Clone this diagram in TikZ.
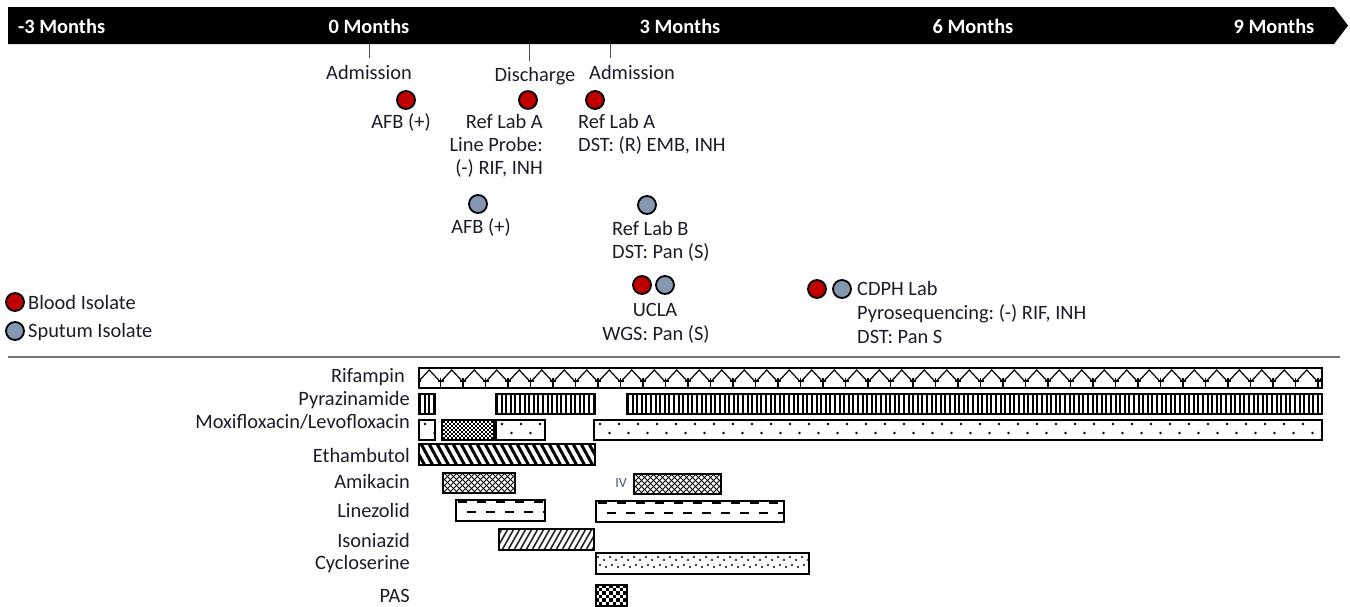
\documentclass[tikz,border=0pt]{standalone}
\usepackage{fontspec}
\setmainfont{Carlito}
\frenchspacing
\definecolor{bloodred}{HTML}{C00000}
\definecolor{sputum}{HTML}{8496B0}
\definecolor{txt}{HTML}{1C1C2A}
\definecolor{ivblue}{HTML}{3F5F8F}
\tikzset{
  lbl/.style={font=\fontsize{20.4}{23}\selectfont, text=txt, inner sep=0pt},
  mon/.style={font=\bfseries\fontsize{20.4}{23}\selectfont, text=white, inner sep=0pt, anchor=base},
  isodot/.style={circle, draw=black, line width=1.8pt, minimum size=18pt, inner sep=0pt},
  blood/.style={isodot, fill=bloodred},
  sput/.style={isodot, fill=sputum},
  drug/.style={lbl, anchor=base east},
  bar/.style={draw=black, line width=2.2pt, inner sep=0pt, anchor=north west},
  tickline/.style={draw=black!70, line width=1pt},
}
% pattern drawings, local coordinates (origin = top-left of bar, y downwards)
\newcommand\patrif[1]{\foreach \i in {0,22.5,...,#1}{
   \draw[line width=1.2pt] (\i,15)--(\i+11.25,3)--(\i+22.5,15);
   \draw[line width=1.2pt] (\i,11)--(\i,21);
   \draw[line width=1.2pt] (\i-3,14)--(\i+3,14);}}
\newcommand\patpyr[1]{\foreach \i in {2,6.6,...,#1}{\draw[line width=2pt] (\i,-1)--(\i,22);}}
\newcommand\patmox[1]{\foreach \i in {0,19,...,#1}{\fill (\i+7,5) circle (1.3); \fill (\i+16.5,14) circle (1.3);}}
\newcommand\patchk[1]{\foreach \i in {0,4,...,#1}{\foreach \j in {0,4,...,20}{
   \fill (\i,\j) rectangle +(2,2); \fill (\i+2,\j+2) rectangle +(2,2);}}}
\newcommand\pateth[1]{\foreach \i in {-14,-6,...,#1}{\draw[line width=3pt] (\i,-1)--(\i+12.6,22);}}
\newcommand\patami[1]{\foreach \i in {-24,-18,...,#1}{\draw[line width=0.9pt] (\i,-1)--(\i+23,22); \draw[line width=0.9pt] (\i,22)--(\i+23,-1);}}
\newcommand\patlin[1]{\foreach \i in {0,19,...,#1}{\draw[line width=2.5pt] (\i+3,3)--(\i+12,3); \draw[line width=2.5pt] (\i+12,13)--(\i+21,13);}}
\newcommand\patiso[1]{\foreach \i in {-14,-8,...,#1}{\draw[line width=1.6pt, black!85] (\i,22)--(\i+13,-1);}}
\newcommand\patcyc[1]{\foreach \i in {0,12,...,#1}{\fill (\i+3,5) circle (1.1); \fill (\i+9,8) circle (1.1);
   \fill (\i+5,13) circle (1.1); \fill (\i+11,15) circle (1.1);}}
\newcommand\patpas[1]{\foreach \i in {0,7,...,#1}{\foreach \j in {0,7,...,21}{
   \fill (\i,\j) rectangle +(3.5,3.5); \fill (\i+3.5,\j+3.5) rectangle +(3.5,3.5);}}}
% name, x, y, width, height, pattern macro
\newcommand\drugbar[6]{%
  \begin{scope}
    \clip (#2,#3) rectangle ++(#4,#5);
    \begin{scope}[shift={(#2,#3)}] #6{#4} \end{scope}
  \end{scope}
  \node[bar, minimum width=#4pt, minimum height=#5pt] (#1) at (#2,#3) {};}
\begin{document}
\begin{tikzpicture}[x=1pt,y=-1pt]
\useasboundingbox (0,0) rectangle (1350,606);
\fill[white] (0,0) rectangle (1350,606);

% timeline bar
\fill[black] (8,7) -- (1334,7) -- (1348,25.5) -- (1334,44) -- (8,44) -- cycle;
\node[mon, anchor=base west] (mm3) at (18,33) {-3 Months};
\node[mon] (m0) at (369,33) {0 Months};
\node[mon] (m3) at (680,33) {3 Months};
\node[mon] (m6) at (973,33) {6 Months};
\node[mon] (m9) at (1274,33) {9 Months};

% ticks
\coordinate (t1a) at (369,44); \coordinate (t1b) at (369,58);
\coordinate (t2a) at (529,44); \coordinate (t2b) at (529,61);
\coordinate (t3a) at (610,44); \coordinate (t3b) at (610,58);
\draw[tickline] (t1a) -- (t1b);
\draw[tickline] (t2a) -- (t2b);
\draw[tickline] (t3a) -- (t3b);

\node[lbl, anchor=base] (adm1) at (369,79) {Admission};
\node[lbl, anchor=base] (dis) at (535,81) {Discharge};
\node[lbl, anchor=base] (adm2) at (632,79) {Admission};

% blood isolates
\node[blood] (b1) at (406,100) {};
\node[blood] (b2) at (528,100) {};
\node[blood] (b3) at (595,100) {};
\node[lbl, anchor=base] (afb1) at (401,128) {AFB (+)};
\node[lbl, anchor=base east] (rla1) at (543,128) {Ref Lab A};
\node[lbl, anchor=base east] (lp) at (543,151) {Line Probe:};
\node[lbl, anchor=base east] (lp2) at (543,174) {(-) RIF, INH};
\node[lbl, anchor=base west] (rla2) at (578,128) {Ref Lab A};
\node[lbl, anchor=base west] (dst1) at (578,151) {DST: (R) EMB, INH};

% sputum isolates
\node[sput] (s1) at (478,204) {};
\node[sput] (s2) at (647,205) {};
\node[lbl, anchor=base] (afb2) at (481,233) {AFB (+)};
\node[lbl, anchor=base west] (rlb) at (612,235) {Ref Lab B};
\node[lbl, anchor=base west] (dst2) at (612,258) {DST: Pan (S)};

% UCLA
\node[blood] (b4) at (642,285) {};
\node[sput] (s3) at (665,285) {};
\node[lbl, anchor=base] (ucla) at (655,316) {UCLA};
\node[lbl, anchor=base] (wgs) at (656,340) {WGS: Pan (S)};

% CDPH
\node[blood] (b5) at (817,289) {};
\node[sput] (s4) at (842,289) {};
\node[lbl, anchor=base west] (cdph) at (857,295) {CDPH Lab};
\node[lbl, anchor=base west] (pyro) at (857,319) {Pyrosequencing: (-) RIF, INH};
\node[lbl, anchor=base west] (dst3) at (857,343) {DST: Pan S};

% legend
\node[blood] (lb) at (15,302) {};
\node[lbl, anchor=base west] (lbt) at (28,309) {Blood Isolate};
\node[sput] (ls) at (15,331) {};
\node[lbl, anchor=base west] (lst) at (28,337) {Sputum Isolate};

% separator
\coordinate (sepL) at (8,357); \coordinate (sepR) at (1340,357);
\draw[black!55, line width=1.5pt] (sepL) -- (sepR);

% drug labels
\node[drug] (dRif) at (405,382) {Rifampin};
\node[drug] (dPyr) at (410,405) {Pyrazinamide};
\node[drug] (dMox) at (410,428) {Moxifloxacin/Levofloxacin};
\node[drug] (dEth) at (410,462) {Ethambutol};
\node[drug] (dAmi) at (410,488) {Amikacin};
\node[drug] (dLin) at (410,517) {Linezolid};
\node[drug] (dIso) at (410,547) {Isoniazid};
\node[drug] (dCyc) at (410,569) {Cycloserine};
\node[drug] (dPas) at (410,602) {PAS};

% bars
\drugbar{rif}{418}{367}{903}{20}{\patrif}
\drugbar{pyr1}{418}{393}{16}{20}{\patpyr}
\drugbar{pyr2}{495}{393}{99}{20}{\patpyr}
\drugbar{pyr3}{626}{393}{695}{20}{\patpyr}
\drugbar{mox1}{418}{419}{16}{20}{\patmox}
\drugbar{mox2}{441}{419}{52}{20}{\patchk}
\drugbar{mox3}{495}{419}{49}{20}{\patmox}
\drugbar{mox4}{593}{419}{728}{20}{\patmox}
\drugbar{eth}{418}{443}{176}{21}{\pateth}
\drugbar{ami1}{442}{472}{72}{20}{\patami}
\node[font=\fontsize{14}{16}\selectfont, text=ivblue, inner sep=0pt, anchor=base] (iv) at (621,487) {IV};
\drugbar{ami2}{633}{473}{87}{20}{\patami}
\drugbar{lin1}{455}{499}{89}{21}{\patlin}
\drugbar{lin2}{595}{500}{188}{21}{\patlin}
\drugbar{iso}{498}{528}{95}{21}{\patiso}
\drugbar{cyc}{595}{552}{213}{21}{\patcyc}
\drugbar{pas}{595}{584}{31}{21}{\patpas}
\end{tikzpicture}
\end{document}
